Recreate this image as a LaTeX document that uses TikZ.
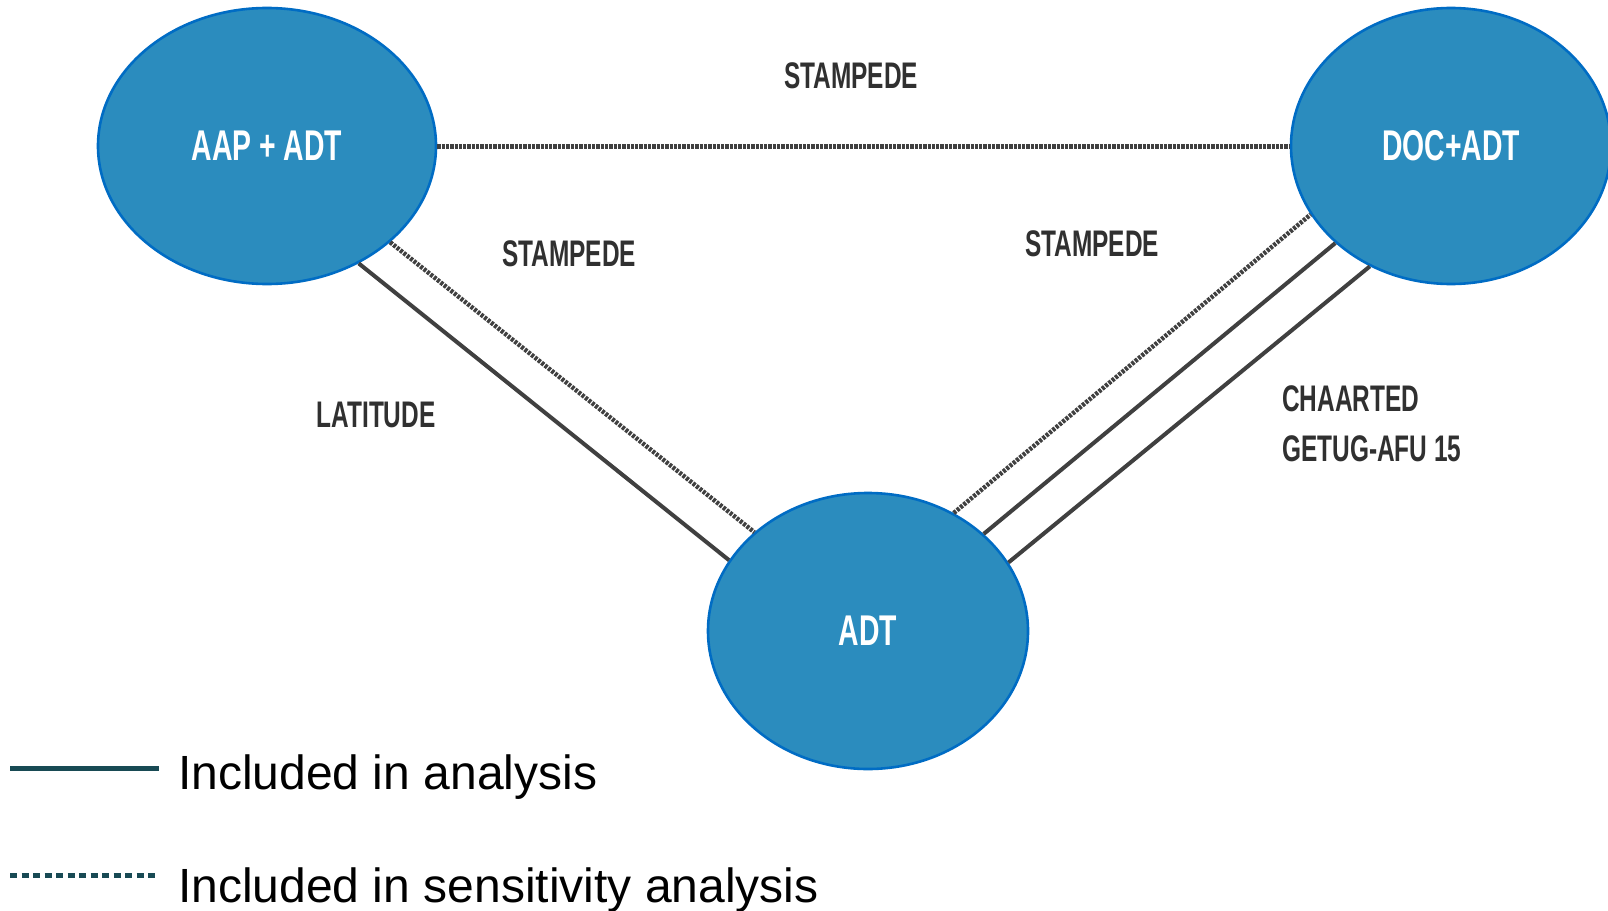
\documentclass[tikz,border=0pt]{standalone}
\usepackage{fontspec}
\setmainfont{Liberation Sans}
\newfontfamily\lblfont[FakeStretch=0.66]{Liberation Sans}
\usetikzlibrary{shapes.geometric}
\definecolor{nodefill}{RGB}{43,140,190}
\definecolor{nodeedge}{RGB}{0,108,196}
\definecolor{linegray}{RGB}{64,64,64}
\definecolor{labelgray}{RGB}{48,48,48}
\definecolor{legendteal}{RGB}{24,74,84}
\tikzset{
  trial/.style={ellipse, fill=nodefill, draw=nodeedge, line width=2.6pt, inner sep=0pt,
    minimum width=320pt, minimum height=276pt, text=white,
    font=\lblfont\bfseries\fontsize{43}{50}\selectfont},
  lbl/.style={inner sep=0pt, text=labelgray, font=\lblfont\bfseries\fontsize{37}{44}\selectfont},
  solidlink/.style={draw=linegray, line width=4pt},
  dotlink/.style={draw=linegray, line width=4.5pt, dash pattern=on 3pt off 1.3pt},
  toplink/.style={draw=linegray, line width=5pt, dash pattern=on 3.3pt off 1pt},
  legsolid/.style={draw=legendteal, line width=5pt},
  legdot/.style={draw=legendteal, line width=5pt, dash pattern=on 7pt off 4.5pt},
  legtext/.style={inner sep=0pt, text=black, font=\fontsize{48}{56}\selectfont},
}
\begin{document}
\begin{tikzpicture}[x=1pt,y=-1pt]
\fill[white] (0,0) rectangle (1608,910);
\useasboundingbox (0,0) rectangle (1608,910);

\node[trial, minimum width=338pt] (aap) at (267,146) {AAP + ADT};
\node[trial] (doc) at (1451,146) {DOC+ADT};
\node[trial] (adt) at (868,631) {ADT};

\draw[toplink] (aap.east) -- (doc.west);
\draw[dotlink] (aap.-38.9) -- (adt.139.6);
\draw[solidlink] (aap.-52.4) -- (adt.153.8);
\draw[dotlink] (adt.54.9) -- (doc.206.7);
\draw[solidlink] (adt.40.7) -- (doc.220.6);
\draw[solidlink] (adt.26.4) -- (doc.236.1);

\node[lbl] (s1) at (851,76) {STAMPEDE};
\node[lbl] (s2) at (569,254) {STAMPEDE};
\node[lbl] (s3) at (1092,244) {STAMPEDE};
\node[lbl] (lat) at (376,415) {LATITUDE};
\node[lbl, anchor=west] (ch) at (1282,399) {CHAARTED};
\node[lbl, anchor=west] (ge) at (1282,449) {GETUG-AFU 15};

\coordinate (l1a) at (10,768);
\coordinate (l1b) at (159,768);
\draw[legsolid] (l1a) -- (l1b);
\node[legtext, anchor=base west] (t1) at (178,789) {Included in analysis};
\coordinate (l2a) at (10,875);
\coordinate (l2b) at (157,875);
\draw[legdot] (l2a) -- (l2b);
\node[legtext, anchor=base west] (t2) at (178,902) {Included in sensitivity analysis};
\end{tikzpicture}
\end{document}
